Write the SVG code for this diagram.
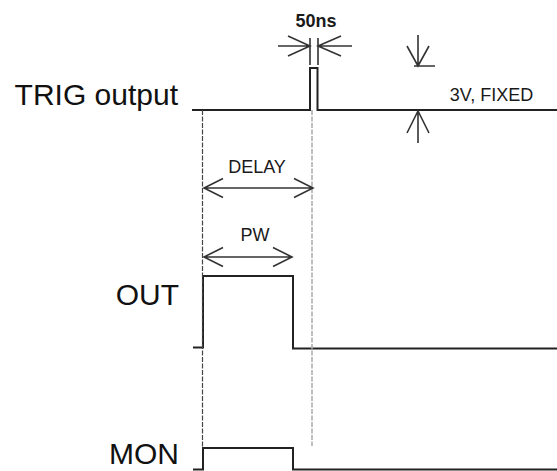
<svg xmlns="http://www.w3.org/2000/svg" width="557" height="471" viewBox="0 0 557 471">
<style>
.lbl{font-family:"Liberation Sans",Arial,sans-serif;font-size:30px;fill:#111;text-anchor:end}
.small{font-family:"Liberation Sans",Arial,sans-serif;font-size:18px;fill:#1a1a1a;text-anchor:middle}
.wave{fill:none;stroke:#222;stroke-width:2;stroke-linejoin:miter}
.dim{fill:none;stroke:#333;stroke-width:1.6}
.guide{fill:none;stroke:#444;stroke-width:1.2;stroke-dasharray:5 1.5}
.guide2{fill:none;stroke:#aaa;stroke-width:1.5;stroke-dasharray:5 1.5}
</style>
<rect width="557" height="471" fill="#fff"/>
<g id="labels">
<text class="lbl" x="178" y="105">TRIG output</text>
<text class="lbl" x="179" y="305">OUT</text>
<text class="lbl" x="179" y="464">MON</text>
</g>
<g id="trig">
<path class="wave" d="M192 110 H310 V68 H317.5 V110 H557"/>
</g>
<g id="out">
<path class="wave" d="M193 347.5 H203 V276 H293 V348.5 H557"/>
</g>
<g id="mon">
<path class="wave" d="M193 469.5 H203 V448 H293 V469.5 H557"/>
</g>
<g id="guides">
<path class="guide" d="M202.5 110 V448"/>
<path class="guide2" d="M312 110 V446"/>
</g>
<g id="dim-50ns">
<text class="small" x="316" y="27" font-weight="bold">50ns</text>
<path class="dim" d="M310 38 V65 M318 38 V65"/>
<path class="dim" d="M278 46 H310 M288 36 L310 46 L288 56"/>
<path class="dim" d="M352 46 H318 M341 36 L318 46 L341 56"/>
</g>
<g id="dim-3v">
<path class="dim" d="M418 35 V66 M414 66 H435 M407 46 L418 66 L429 46"/>
<path class="dim" d="M418 111 V143 M407 133 L418 111 L429 133"/>
<text class="small" x="491.5" y="101" font-size="18.8">3V, FIXED</text>
</g>
<g id="dim-delay">
<text class="small" x="257" y="173" font-size="19">DELAY</text>
<path class="dim" d="M204 188 H313 M223 178.5 L204 188 L223 197.5 M294 178.5 L313 188 L294 197.5"/>
</g>
<g id="dim-pw">
<text class="small" x="255" y="241" font-size="19">PW</text>
<path class="dim" d="M204 257 H292 M223 247.5 L204 257 L223 266.5 M273 247.5 L292 257 L273 266.5"/>
</g>
</svg>
